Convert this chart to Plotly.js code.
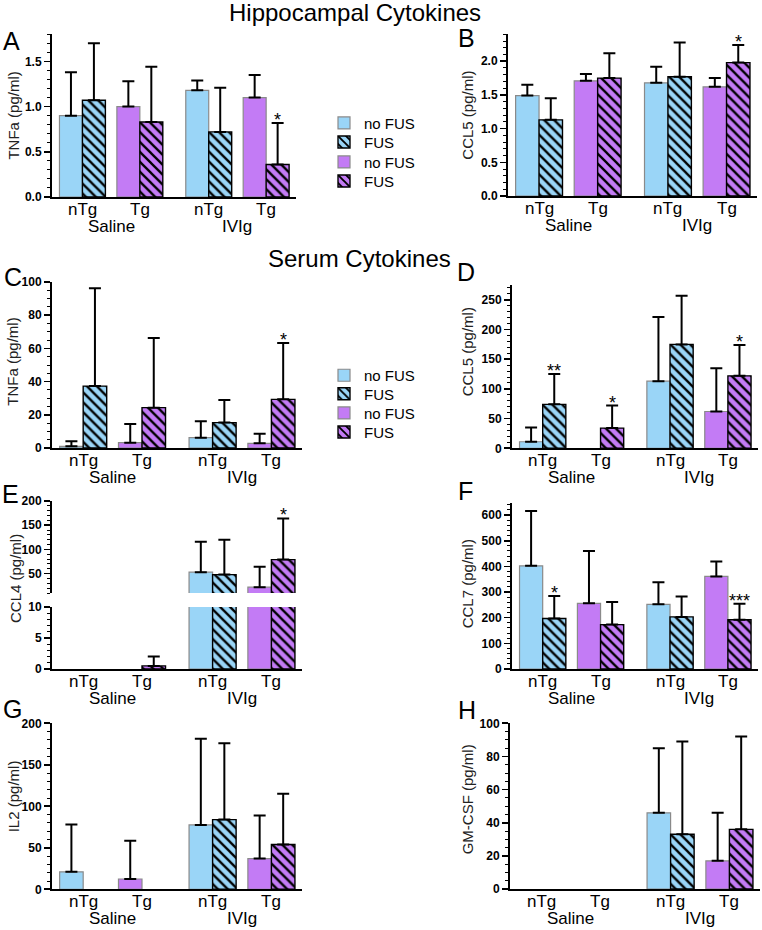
<!DOCTYPE html>
<html><head><meta charset="utf-8">
<script src="https://cdn.plot.ly/plotly-3.0.1.min.js"></script>
<style>html,body{margin:0;padding:0;background:#fff}</style>
</head><body><div id="chart" style="width:762px;height:930px"></div>
<script>
// ---- data (order: Saline nTg noFUS, Saline nTg FUS, Saline Tg noFUS, Saline Tg FUS, IVIg nTg noFUS, IVIg nTg FUS, IVIg Tg noFUS, IVIg Tg FUS)
const genotypeLabels = ['nTg', 'Tg', 'nTg', 'Tg'];
const treatmentLabels = ['Saline', 'IVIg'];
const fusLabels = ['no FUS', 'FUS'];
const sectionTitles = ['Hippocampal Cytokines', 'Serum Cytokines'];
const panelLetters = ['A', 'B', 'C', 'D', 'E', 'F', 'G', 'H'];
const yTitles = ['TNFa (pg/ml)', 'CCL5 (pg/ml)', 'TNFa (pg/ml)', 'CCL5 (pg/ml)', 'CCL4 (pg/ml)', 'CCL7 (pg/ml)', 'IL2 (pg/ml)', 'GM-CSF (pg/ml)'];

const hippoTNFaMean = [0.90, 1.07, 1.00, 0.83, 1.18, 0.72, 1.10, 0.36];
const hippoTNFaSD   = [0.48, 0.63, 0.28, 0.61, 0.11, 0.49, 0.25, 0.46];
const hippoTNFaSig  = ['', '', '', '', '', '', '', '*'];

const hippoCCL5Mean = [1.49, 1.13, 1.71, 1.75, 1.68, 1.77, 1.62, 1.98];
const hippoCCL5SD   = [0.16, 0.32, 0.10, 0.37, 0.24, 0.51, 0.13, 0.26];
const hippoCCL5Sig  = ['', '', '', '', '', '', '', '*'];

const serumTNFaMean = [1.0, 37.3, 3.2, 24.3, 6.2, 15.3, 2.8, 29.3];
const serumTNFaSD   = [3.0, 59, 11.3, 42, 9.9, 13.6, 5.8, 34];
const serumTNFaSig  = ['', '', '', '', '', '', '', '*'];

const serumCCL5Mean = [11, 74, null, 34, 113, 175, 62, 122];
const serumCCL5SD   = [24, 51, null, 38, 108, 82, 73, 52];
const serumCCL5Sig  = ['', '**', '', '*', '', '', '', '*'];

const serumCCL4Mean = [null, null, null, 0.5, 53, 48, 22, 79];
const serumCCL4SD   = [null, null, null, 1.5, 63, 72, 42, 85];
const serumCCL4Sig  = ['', '', '', '', '', '', '', '*'];

const serumCCL7Mean = [402, 197, 256, 173, 252, 203, 361, 192];
const serumCCL7SD   = [214, 88, 204, 88, 86, 80, 58, 62];
const serumCCL7Sig  = ['', '*', '', '', '', '', '', '***'];

const serumIL2Mean = [21, null, 12.4, null, 77.5, 84, 37, 54];
const serumIL2SD   = [57, null, 46, null, 104, 92, 52, 61];
const serumIL2Sig  = ['', '', '', '', '', '', '', ''];

const serumGMCSFMean = [null, null, null, null, 46, 33, 17, 36];
const serumGMCSFSD   = [null, null, null, null, 39, 56, 29, 56];
const serumGMCSFSig  = ['', '', '', '', '', '', '', ''];

// ---- styling / layout
const FONT = 'Liberation Sans, Arial, Helvetica, sans-serif';
const W = 762, H = 930;
const px = v => v / W, py = v => 1 - v / H;
const genoColors = ['#9AD5F7', '#C37BF5'];
const groupPos = [0, 1, 2.2, 3.2];
const BARW = 0.4;

const panels = [
  {mean: hippoTNFaMean, sd: hippoTNFaSD, sig: hippoTNFaSig, xr: [52, 296], yr: [34.3, 197], range: [0, 1.8], dtick: 0.5, minor: 0.1, fmt: '.1f', letter: [1, 40.5], ttl: [14, 115.6], legendRows: [122.7, 141.7, 161.7, 180.7], legendBase: 1},
  {mean: hippoCCL5Mean, sd: hippoCCL5SD, sig: hippoCCL5Sig, xr: [508, 757], yr: [34.3, 196], range: [0, 2.4], dtick: 0.5, minor: 0.1, fmt: '.1f', letter: [456, 38.5], ttl: [466.7, 115]},
  {mean: serumTNFaMean, sd: serumTNFaSD, sig: serumTNFaSig, xr: [52, 302], yr: [282, 448], range: [0, 100], dtick: 20, minor: 5, fmt: 'd', letter: [2, 276.7], ttl: [13, 361.7], legendRows: [375, 393.5, 412.7, 431.7], legendBase: 5},
  {mean: serumCCL5Mean, sd: serumCCL5SD, sig: serumCCL5Sig, xr: [512, 758], yr: [285, 448.3], range: [0, 275], dtick: 50, minor: 10, fmt: 'd', letter: [455, 271.7], ttl: [468.3, 352]},
  {mean: serumCCL4Mean, sd: serumCCL4SD, sig: serumCCL4Sig, xr: [52, 302], yr: [607, 669], range: [0, 10], dtick: 5, minor: 1, fmt: 'd', letter: [0, 494], ttl: [15, 579],
   top: {yr: [501, 593], range: [10, 200], dtick: 50, minor: 10}},
  {mean: serumCCL7Mean, sd: serumCCL7SD, sig: serumCCL7Sig, xr: [512, 758], yr: [503, 669], range: [0, 647], dtick: 100, minor: 20, fmt: 'd', letter: [456, 490.5], ttl: [467.3, 584]},
  {mean: serumIL2Mean, sd: serumIL2SD, sig: serumIL2Sig, xr: [52, 302], yr: [723.3, 889.3], range: [0, 200], dtick: 50, minor: 10, fmt: 'd', letter: [1, 709], ttl: [13.3, 796]},
  {mean: serumGMCSFMean, sd: serumGMCSFSD, sig: serumGMCSFSig, xr: [510, 760], yr: [723.3, 889], range: [0, 100], dtick: 20, minor: 5, fmt: 'd', letter: [456, 710], ttl: [467.3, 799]}
];

const traces = [];
const layout = {
  width: W, height: H, margin: {l: 0, r: 0, t: 0, b: 0},
  paper_bgcolor: '#fff', plot_bgcolor: 'rgba(0,0,0,0)',
  barmode: 'overlay', showlegend: true,
  font: {family: FONT, color: '#000'},
  annotations: [], shapes: []
};

function yAxisDef(range, dtick, minor, fmt, domain, anchor) {
  return {
    domain: domain, anchor: anchor, range: range, autorange: false, fixedrange: true,
    showline: true, linewidth: 2, linecolor: '#000', showgrid: false, zeroline: false,
    ticks: 'outside', ticklen: 6, tickwidth: 1.6, tickcolor: '#000',
    tick0: 0, dtick: dtick, tickformat: fmt,
    tickfont: {family: FONT, size: 12, weight: 'bold', color: '#000'},
    minor: {ticks: 'outside', ticklen: 3, tickwidth: 1, tickcolor: '#000', tick0: 0, dtick: minor, showgrid: false}
  };
}

const legendStyle = {xanchor: 'left', yanchor: 'top', bgcolor: 'rgba(0,0,0,0)', borderwidth: 0,
  font: {family: FONT, size: 15, color: '#000'}, itemwidth: 30, tracegroupgap: 0};

function addBars(p, xa, ya, withLegend) {
  let item = 0;
  for (let g = 0; g < 2; g++) {
    for (let f = 0; f < 2; f++) {
      const idx = [g * 2 + f, 4 + g * 2 + f];
      const col = genoColors[g];
      const t = {
        type: 'bar', xaxis: xa, yaxis: ya,
        x: [groupPos[g], groupPos[2 + g]],
        y: idx.map(i => p.mean[i]),
        width: BARW, offset: f === 0 ? -BARW : 0,
        name: fusLabels[f],
        marker: {
          color: col,
          line: {color: f === 0 ? '#8a8a8a' : '#000', width: f === 0 ? 1.2 : 1.4},
          pattern: f === 1 ? {shape: '\\', fgcolor: '#000', bgcolor: col, size: 7, solidity: 0.33, fillmode: 'replace'} : {shape: ''}
        },
        error_y: {
          type: 'data', symmetric: false, visible: true,
          array: idx.map(i => p.sd[i]), arrayminus: idx.map(i => p.sd[i] == null ? null : 0),
          color: '#000', thickness: 2, width: 6
        },
        showlegend: !!withLegend, hoverinfo: 'skip'
      };
      if (withLegend) {
        const lname = 'legend' + (p.legendBase + item === 1 ? '' : (p.legendBase + item));
        t.legend = lname;
        layout[lname] = Object.assign({}, legendStyle, {x: px(324), y: py(p.legendRows[item] - 16)});
      }
      item++;
      traces.push(t);
    }
  }
}

function addStars(p, xa, ya) {
  p.sig.forEach((s, i) => {
    if (!s) return;
    const g = Math.floor((i % 4) / 2), f = i % 2, tr = Math.floor(i / 4);
    layout.annotations.push({xref: xa, yref: ya, x: groupPos[tr * 2 + g] + (f === 0 ? -BARW / 2 : BARW / 2), y: p.mean[i] + p.sd[i],
      text: s, showarrow: false, yanchor: 'bottom', yshift: -9, font: {family: FONT, size: 18, color: '#000'}});
  });
}

panels.forEach((p, k) => {
  const n = k + 1;
  const xa = 'x' + (n === 1 ? '' : n), ya = 'y' + (n === 1 ? '' : n);
  const xk = 'xaxis' + (n === 1 ? '' : n), yk = 'yaxis' + (n === 1 ? '' : n);
  layout[xk] = {
    domain: [px(p.xr[0]), px(p.xr[1])], anchor: ya, range: [-0.53, 3.72], autorange: false, fixedrange: true,
    showline: true, linewidth: 2, linecolor: '#000', showgrid: false, zeroline: false, ticks: '',
    showticklabels: false
  };
  layout[yk] = yAxisDef(p.range, p.dtick, p.minor, p.fmt, [py(p.yr[1]), py(p.yr[0])], xa);
  addBars(p, xa, ya, p.legendRows ? true : null);
  if (p.top) {
    layout.yaxis9 = yAxisDef(p.top.range, p.top.dtick, p.top.minor, 'd', [py(p.top.yr[1]), py(p.top.yr[0])], xa);
    addBars(p, xa, 'y9', null);
    addStars(p, xa, 'y9');
  } else {
    addStars(p, xa, ya);
  }
  // genotype labels
  genotypeLabels.forEach((gl, j) => {
    layout.annotations.push({xref: xa, yref: ya + ' domain', x: groupPos[j], y: 0,
      yanchor: 'top', yshift: -1, text: gl, showarrow: false, font: {family: FONT, size: 17, color: '#000'}});
  });
  // treatment labels
  treatmentLabels.forEach((tl, j) => {
    layout.annotations.push({xref: xa, yref: ya + ' domain', x: (groupPos[2 * j] + groupPos[2 * j + 1]) / 2, y: 0,
      yanchor: 'top', yshift: -18, text: tl, showarrow: false, font: {family: FONT, size: 17, color: '#000'}});
  });
  // panel letter
  layout.annotations.push({xref: 'paper', yref: 'paper', x: px(p.letter[0]), y: py(p.letter[1]), xanchor: 'left', yanchor: 'middle',
    text: panelLetters[k], showarrow: false, font: {family: FONT, size: 25, color: '#000'}});
  // y title
  layout.annotations.push({xref: 'paper', yref: 'paper', x: px(p.ttl[0]), y: py(p.ttl[1]), xanchor: 'center', yanchor: 'middle',
    textangle: -90, text: yTitles[k], showarrow: false, font: {family: FONT, size: 15, color: '#222'}});
});

// section titles
layout.annotations.push({xref: 'paper', yref: 'paper', x: px(354.5), y: py(12), xanchor: 'center', yanchor: 'middle',
  text: sectionTitles[0], showarrow: false, font: {family: FONT, size: 24, color: '#000'}});
layout.annotations.push({xref: 'paper', yref: 'paper', x: px(359), y: py(258.5), xanchor: 'center', yanchor: 'middle',
  text: sectionTitles[1], showarrow: false, font: {family: FONT, size: 24, color: '#000'}});

Plotly.newPlot('chart', traces, layout, {staticPlot: true, displayModeBar: false});
</script></body></html>
